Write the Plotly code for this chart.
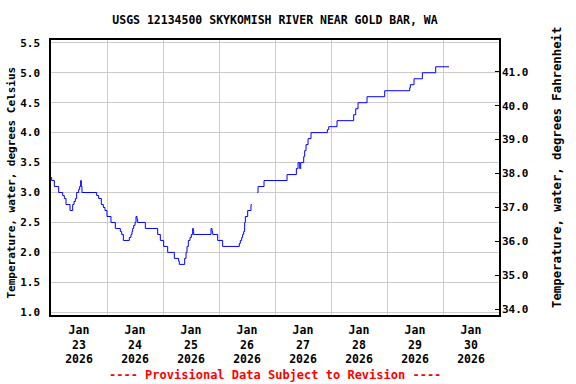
import pandas as pd
import plotly.graph_objects as go

# Hours since 2026-01-23 00:00 and water temperature (deg C); None marks a data gap
hours = [0, 0.29, 1.43, 3.29, 5.0, 5.71, 6.43, 8.14, 9.29, 9.86, 10.43, 11.0, 11.86, 12.29,
         12.71, 13.0, 13.29, 19.57, 20.43, 21.57, 22.43, 23.14, 24.0, 25.71, 27.57, 29.71,
         30.29, 31.0, 33.57, 34.29, 34.71, 35.0, 35.43, 36.0, 36.43, 36.86, 37.14, 40.43,
         45.71, 46.86, 48.29, 50.0, 52.86, 54.71, 55.0, 57.29, 57.86, 58.29, 58.86, 59.57,
         60.14, 60.71, 61.0, 61.14, 68.57, 69.0, 69.29, 71.43, 73.57, 80.71, 81.14, 81.71,
         82.14, 82.57, 83.0, 83.29, 84.29, 85.71, 86.0,
         87.0,
         88.44, 88.73, 91.3, 101.16, 105.16, 105.87, 106.59, 107.01, 108.3, 108.73, 109.3,
         110.16, 111.44, 118.44, 119.01, 122.58, 129.73, 130.59, 131.58, 135.44, 143.01,
         153.73, 154.01, 155.58, 159.16, 164.87, 170.58]
temp_c = [3.25, 3.2, 3.1, 3.0, 2.95, 2.9, 2.8, 2.7, 2.8, 2.85, 2.9, 3.0, 3.05, 3.1,
          3.2, 3.1, 3.0, 2.95, 2.9, 2.8, 2.75, 2.7, 2.6, 2.5, 2.4, 2.35,
          2.3, 2.2, 2.25, 2.3, 2.35, 2.4, 2.45, 2.5, 2.6, 2.55, 2.5, 2.4,
          2.3, 2.2, 2.1, 2.0, 1.9, 1.85, 1.8, 1.9, 2.0, 2.1, 2.2, 2.25,
          2.3, 2.4, 2.35, 2.3, 2.4, 2.35, 2.3, 2.2, 2.1, 2.15, 2.2, 2.25,
          2.3, 2.35, 2.5, 2.6, 2.7, 2.8, 2.8,
          None,
          3.0, 3.1, 3.2, 3.3, 3.4, 3.5, 3.4, 3.5, 3.6, 3.7, 3.8,
          3.9, 4.0, 4.05, 4.1, 4.2, 4.3, 4.4, 4.5, 4.6, 4.7,
          4.75, 4.8, 4.9, 5.0, 5.1, 5.1]

days = ["2026-01-23", "2026-01-24", "2026-01-25", "2026-01-26",
        "2026-01-27", "2026-01-28", "2026-01-29", "2026-01-30"]
day_labels = ["Jan<br>23<br>2026", "Jan<br>24<br>2026", "Jan<br>25<br>2026", "Jan<br>26<br>2026",
              "Jan<br>27<br>2026", "Jan<br>28<br>2026", "Jan<br>29<br>2026", "Jan<br>30<br>2026"]
c_ticks = [1.0, 1.5, 2.0, 2.5, 3.0, 3.5, 4.0, 4.5, 5.0, 5.5]
f_ticks = [34, 35, 36, 37, 38, 39, 40, 41]

title = "USGS 12134500 SKYKOMISH RIVER NEAR GOLD BAR, WA"
note = "---- Provisional Data Subject to Revision ----"
left_title = "Temperature, water, degrees Celsius"
right_title = "Temperature, water, degrees Fahrenheit"

base = pd.Timestamp("2026-01-23 00:00")
times = [base + pd.Timedelta(hours=h) for h in hours]
tick_times = [pd.Timestamp(d) + pd.Timedelta(hours=12) for d in days]

FONT = "DejaVu Sans Mono"

fig = go.Figure()
fig.add_trace(go.Scatter(x=times, y=temp_c, mode="lines", line=dict(color="#0000ff", width=1, shape="hv"),
                         connectgaps=False, hoverinfo="skip", showlegend=False))
fig.add_trace(go.Scatter(x=[], y=[], yaxis="y2", mode="lines", showlegend=False, hoverinfo="skip"))

fig.update_layout(
    width=576, height=384,
    margin=dict(l=51, r=77, t=40, b=69, autoexpand=False),
    plot_bgcolor="white", paper_bgcolor="white",
    font=dict(family=FONT, size=11, color="black"),
    showlegend=False,
    title=dict(text="<b>" + title + "</b>", x=0.5, xref="paper", xanchor="center",
               y=1 - 20 / 384, yref="container", yanchor="middle", automargin=False,
               font=dict(family=FONT, size=11.5, color="black")),
    xaxis=dict(type="date", range=[base, base + pd.Timedelta(days=8)],
               tickvals=tick_times, ticktext=["<b>" + t + "</b>" for t in day_labels],
               ticks="", showgrid=False, showline=True, linecolor="black", linewidth=1.5,
               mirror=True, tickfont=dict(family=FONT, size=11.5), automargin=False,
               ticklabelstandoff=3,
               minor=dict(tick0=base, dtick=86400000, showgrid=True, gridcolor="#cccccc",
                          gridwidth=1, ticks=""),
               zeroline=False, fixedrange=True),
    yaxis=dict(range=[0.955, 5.547], tickvals=c_ticks, tickformat=".1f", ticks="",
               ticklabelstandoff=7, automargin=False,
               showgrid=True, gridcolor="#cccccc", gridwidth=1, zeroline=False,
               showline=True, linecolor="black", linewidth=1.5, mirror=True,
               tickfont=dict(family=FONT, size=11, weight="bold")),
    yaxis2=dict(overlaying="y", side="right", range=[33.83, 41.935], tickvals=f_ticks,
                tickformat=".1f", ticks="inside", ticklen=4, tickcolor="black",
                ticklabelstandoff=2, automargin=False,
                showgrid=False, zeroline=False, showline=False,
                tickfont=dict(family=FONT, size=11, weight="bold")),
    annotations=[
        dict(text="<b>" + note + "</b>", x=0.5, xref="paper", xanchor="center",
             y=-0.218, yref="paper", yanchor="middle", showarrow=False,
             font=dict(family=FONT, size=12, color="#ff0000")),
        dict(text="<b>" + left_title + "</b>", x=-0.089, xref="paper", xanchor="center",
             y=0.482, yref="paper", yanchor="middle", showarrow=False, textangle=-90,
             font=dict(family=FONT, size=11, color="black")),
        dict(text="<b>" + right_title + "</b>", x=1.128, xref="paper", xanchor="center",
             y=0.536, yref="paper", yanchor="middle", showarrow=False, textangle=-90,
             font=dict(family=FONT, size=12.3, color="black")),
    ],
)

fig.write_html("out.html", config={"displayModeBar": False},
               post_script="document.body.style.margin='0';")
